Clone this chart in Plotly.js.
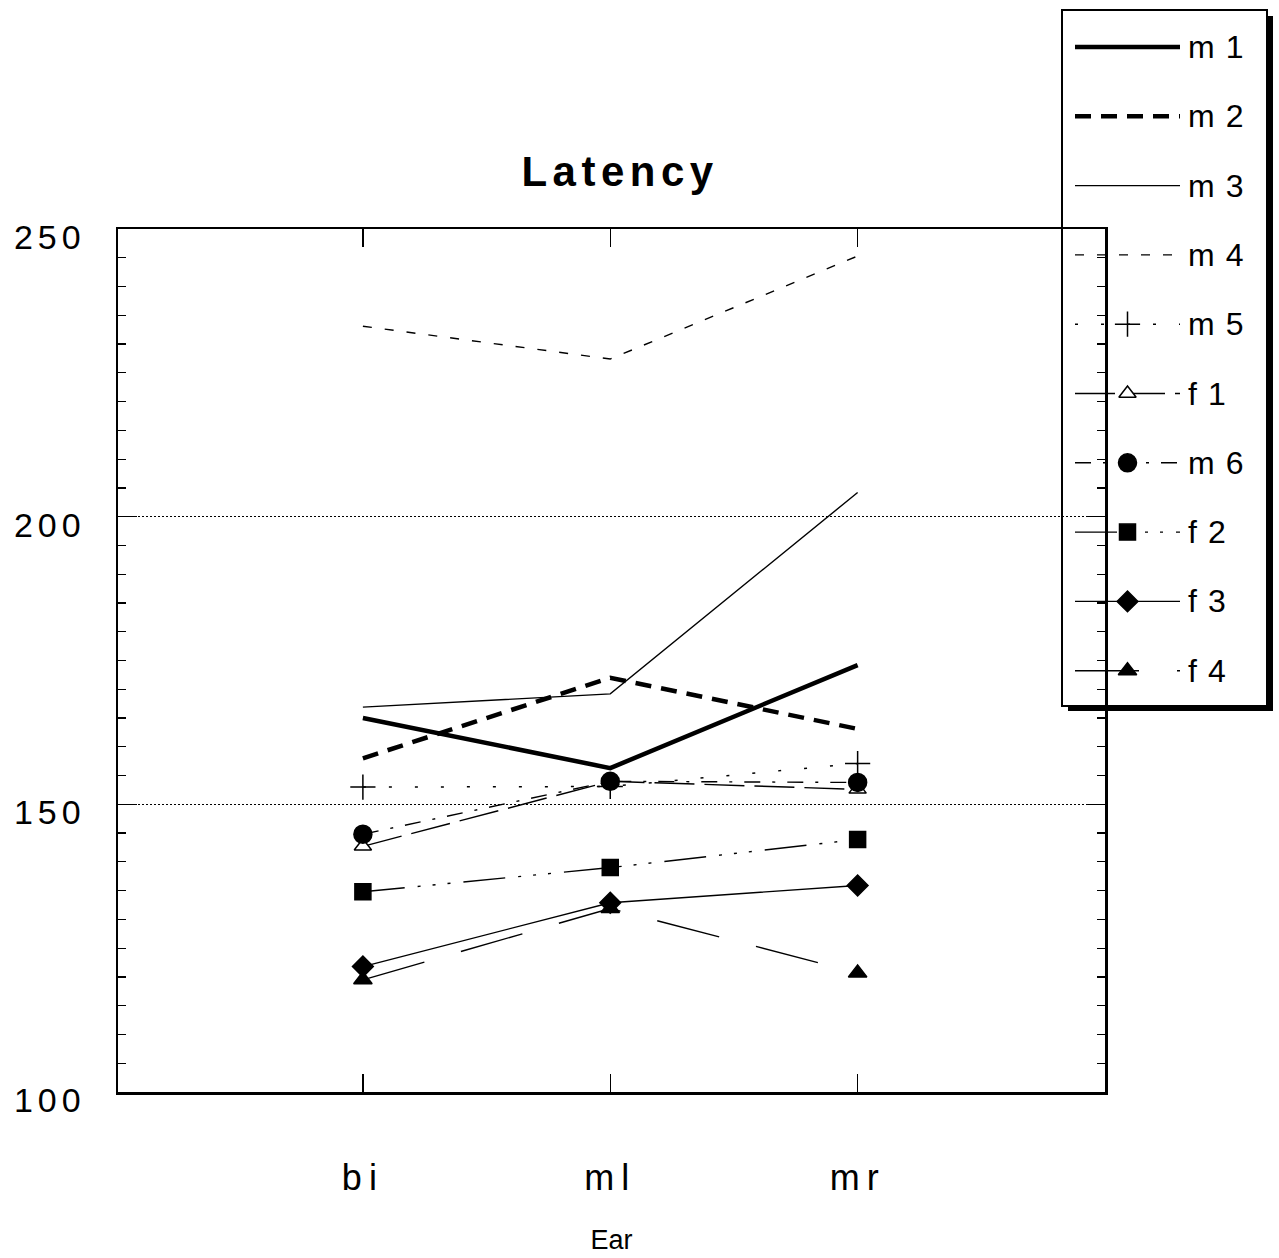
<!DOCTYPE html>
<html>
<head>
<meta charset="utf-8">
<script src="https://cdn.plot.ly/plotly-3.0.1.min.js"></script>
<style>
  body { margin: 0; background: #fff; }
  #chart { width: 1279px; height: 1258px; }
  #chart .xtick text { letter-spacing: 7px; }
  #chart .ytick text { letter-spacing: 5px; }
  #chart .gtitle { letter-spacing: 5.5px; }
  #chart .annotation-text { letter-spacing: 11px; }
</style>
</head>
<body>
<div id="chart"></div>
<script>
// Ear condition categories
const ears = ['bi', 'ml', 'mr'];

// Latency per subject (ms)
const m1 = [165.0, 156.3, 174.2];
const m2 = [158.0, 172.0, 163.1];
const m3 = [166.9, 169.2, 204.2];
const m4 = [233.1, 227.4, 245.3];
const m5 = [153.0, 153.1, 157.1];
const f1 = [142.7, 154.0, 152.6];
const m6 = [144.8, 154.0, 153.8];
const f2 = [134.8, 139.0, 143.9];
const f3 = [121.8, 132.9, 135.9];
const f4 = [119.5, 131.9, 120.7];

const subjectNames = ['m1', 'm2', 'm3', 'm4', 'm5', 'f1', 'm6', 'f2', 'f3', 'f4'];
const subjectValues = [m1, m2, m3, m4, m5, f1, m6, f2, f3, f4];

// Line / marker style for each subject
const styles = {
  m1: { width: 4.5, dash: 'solid' },
  m2: { width: 4.5, dash: '16px,10px' },
  m3: { width: 1.4, dash: 'solid' },
  m4: { width: 1.4, dash: '9px,13px' },
  m5: { width: 1.5, dash: '3px,23px', symbol: 'cross-thin-open', size: 18, fill: '#000' },
  f1: { width: 1.4, dash: '40px,10px', symbol: 'triangle-up', size: 15, fill: '#fff' },
  m6: { width: 1.4, dash: '16px,12px,3px,12px', symbol: 'circle', size: 18, fill: '#000' },
  f2: { width: 1.4, dash: '42px,13px,3px,12px,3px,12px,3px,13px', symbol: 'square', size: 16, fill: '#000' },
  f3: { width: 1.4, dash: 'solid', symbol: 'diamond', size: 16, fill: '#000' },
  f4: { width: 1.4, dash: '64px,38px', symbol: 'triangle-up', size: 16, fill: '#000' }
};

const W = 1279, H = 1258;
const FONT = 'Liberation Sans, Arial, Helvetica, sans-serif';

// Legend panel geometry (pixels)
const legPx = { left: 1060, right: 1276, top: 8, bottom: 714 };
const rowTop = 47, rowStep = 69.3;
const sampleLeft = 1075, sampleRight = 1180, textLeft = 1197;

const markerOf = s => ({ symbol: s.symbol, size: s.size, color: s.fill,
                         line: { color: '#000', width: 1.5 } });

const traces = [];

// Data lines
subjectNames.forEach((name, i) => {
  const s = styles[name];
  const t = {
    x: ears, y: subjectValues[i], name: name,
    type: 'scatter', mode: s.symbol ? 'lines+markers' : 'lines',
    xaxis: 'x', yaxis: 'y',
    line: { color: '#000', width: s.width, dash: s.dash },
    showlegend: false, hoverinfo: 'x+y+name', cliponaxis: false
  };
  if (s.symbol) t.marker = markerOf(s);
  traces.push(t);
});

// Legend samples drawn in their own small subplot
const sampleSpan = (sampleRight - sampleLeft);
const x2Range = [-(sampleLeft - legPx.left) / sampleSpan,
                 1 + (legPx.right - sampleRight) / sampleSpan];
const y2Range = [(legPx.bottom - rowTop) / rowStep, (legPx.top - rowTop) / rowStep];

subjectNames.forEach((name, i) => {
  const s = styles[name];
  traces.push({
    x: [0, 1], y: [i, i],
    type: 'scatter', mode: 'lines',
    xaxis: 'x2', yaxis: 'y2',
    line: { color: '#000', width: s.width, dash: s.dash },
    showlegend: false, hoverinfo: 'skip', cliponaxis: false
  });
  if (s.symbol) {
    traces.push({
      x: [0.5], y: [i],
      type: 'scatter', mode: 'markers',
      xaxis: 'x2', yaxis: 'y2',
      marker: markerOf(s),
      showlegend: false, hoverinfo: 'skip', cliponaxis: false
    });
  }
});

// Pixel -> legend-domain helpers
const dx = px => (px - legPx.left) / (legPx.right - legPx.left);
const dy = py => (legPx.bottom - py) / (legPx.bottom - legPx.top);

const shapes = [
  // drop shadow
  { type: 'rect', xref: 'x2 domain', yref: 'y2 domain', layer: 'below',
    x0: dx(1068), x1: dx(1273), y0: dy(711), y1: dy(16),
    fillcolor: '#000', line: { width: 0 } },
  // panel
  { type: 'rect', xref: 'x2 domain', yref: 'y2 domain', layer: 'below',
    x0: dx(1062), x1: dx(1267), y0: dy(706), y1: dy(10),
    fillcolor: '#fff', line: { color: '#000', width: 2 } }
];

const annotations = subjectNames.map((name, i) => ({
  text: name, xref: 'paper', yref: 'y2', x: textLeft / W, y: i,
  xanchor: 'left', yanchor: 'middle', showarrow: false,
  font: { family: FONT, size: 32, color: '#000' }
}));

const layout = {
  width: W, height: H,
  margin: { l: 0, r: 0, t: 0, b: 0 },
  paper_bgcolor: '#fff',
  plot_bgcolor: 'rgba(0,0,0,0)',
  showlegend: false,
  title: {
    text: 'Latency',
    font: { family: FONT, size: 42, weight: 700, color: '#000' },
    xref: 'paper', x: 620 / W, xanchor: 'center',
    yref: 'container', y: 1 - 171 / H, yanchor: 'middle'
  },
  xaxis: {
    domain: [118 / W, 1105 / W],
    type: 'category', categoryorder: 'array', categoryarray: ears,
    range: [-0.99, 3.0],
    showline: true, linecolor: '#000', linewidth: 2.5,
    mirror: 'ticks', ticks: 'inside', ticklen: 18, tickwidth: 1.5, tickcolor: '#000',
    showgrid: false, zeroline: false,
    tickfont: { family: FONT, size: 36, color: '#000' },
    ticklabelstandoff: 52,
    title: { text: 'Ear', font: { family: FONT, size: 27, color: '#000' }, standoff: 34 },
    automargin: false, fixedrange: true
  },
  yaxis: {
    domain: [(H - 1092) / H, (H - 229) / H],
    range: [100, 250], dtick: 50, tick0: 100,
    showline: true, linecolor: '#000', linewidth: 2.5,
    mirror: 'ticks', ticks: 'inside', ticklen: 19, tickwidth: 1.5, tickcolor: '#000',
    minor: { dtick: 5, ticks: 'inside', ticklen: 8, tickwidth: 1.2, tickcolor: '#000', showgrid: false },
    showgrid: true, gridcolor: '#000', gridwidth: 1.2, griddash: '2px,2px',
    zeroline: false,
    tickfont: { family: FONT, size: 34, color: '#000' },
    ticklabelstandoff: 23, ticklabelshift: 8,
    automargin: false, fixedrange: true
  },
  xaxis2: {
    domain: [legPx.left / W, legPx.right / W], anchor: 'y2',
    range: x2Range, visible: false, fixedrange: true
  },
  yaxis2: {
    domain: [1 - legPx.bottom / H, 1 - legPx.top / H], anchor: 'x2',
    range: y2Range, visible: false, fixedrange: true
  },
  shapes: shapes,
  annotations: annotations
};

Plotly.newPlot('chart', traces, layout, { displayModeBar: false, staticPlot: true });
</script>
</body>
</html>
